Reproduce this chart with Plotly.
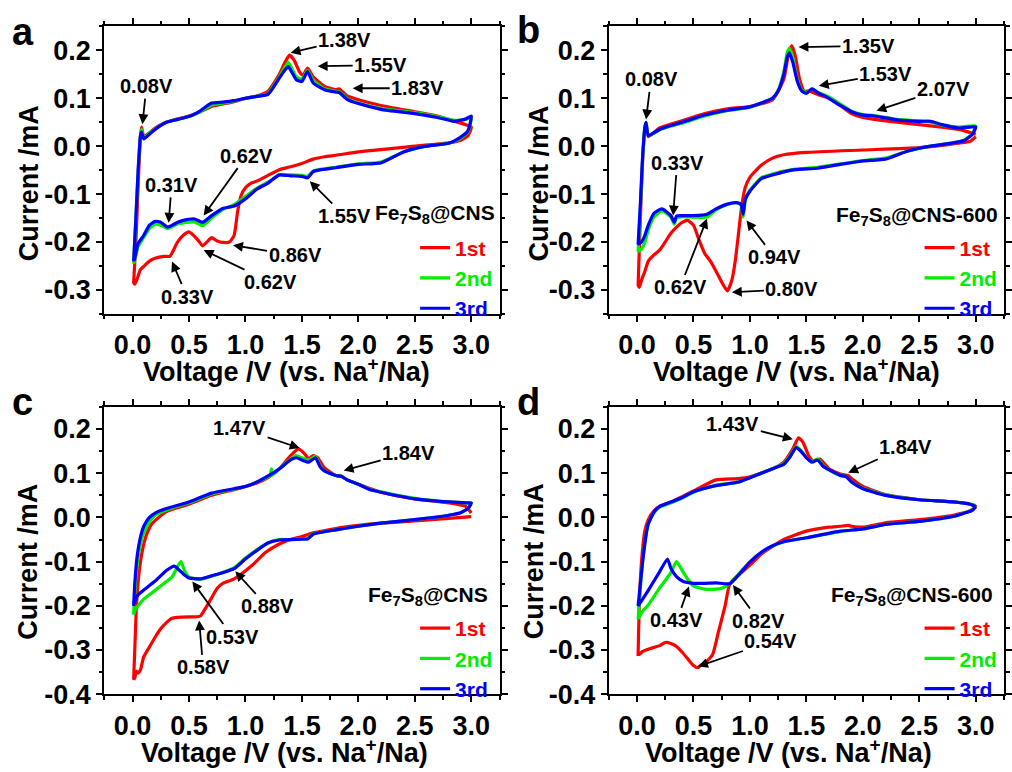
import plotly.graph_objects as go

W, H = 1012, 772
FONT = "Arial, Liberation Sans, sans-serif"
RED, GREEN, BLUE = "#ff0000", "#00ee00", "#0000ff"
CYCLE_NAMES = ["1st", "2nd", "3rd"]
CYCLE_COLORS = [RED, GREEN, BLUE]

# ---------------- Panel a : Fe7S8@CNS ----------------
A1_CATH_V = [3.0, 2.97, 2.9, 2.8, 2.5, 2.2, 2.0, 1.8, 1.7, 1.6, 1.5, 1.4, 1.3, 1.2, 1.1, 1.05, 1.0, 0.96, 0.93, 0.9,
             0.86, 0.8, 0.75, 0.7, 0.66, 0.62, 0.58, 0.5, 0.45, 0.4, 0.35, 0.33, 0.28, 0.2, 0.15, 0.1, 0.07, 0.04, 0.02, 0.01]
A1_CATH_I = [0.04, 0.022, 0.012, 0.007, 0.0, -0.007, -0.012, -0.019, -0.022, -0.027, -0.036, -0.043, -0.049, -0.061,
             -0.073, -0.077, -0.087, -0.104, -0.138, -0.186, -0.2, -0.201, -0.198, -0.191, -0.2, -0.208, -0.196, -0.179,
             -0.186, -0.2, -0.223, -0.23, -0.23, -0.234, -0.24, -0.251, -0.258, -0.278, -0.288, -0.285]
A1_ANOD_V = [0.01, 0.03, 0.05, 0.07, 0.08, 0.1, 0.15, 0.2, 0.3, 0.4, 0.5, 0.6, 0.7, 0.8, 0.9, 1.0, 1.1, 1.2, 1.3, 1.35,
             1.39, 1.43, 1.48, 1.51, 1.55, 1.6, 1.7, 1.8, 1.83, 1.9, 2.0, 2.2, 2.5, 2.7, 2.85, 2.95, 3.0]
A1_ANOD_I = [-0.285, -0.2, -0.08, 0.02, 0.04, 0.02, 0.028, 0.038, 0.05, 0.057, 0.063, 0.072, 0.083, 0.088, 0.093, 0.1,
             0.105, 0.115, 0.15, 0.175, 0.19, 0.18, 0.155, 0.148, 0.163, 0.145, 0.125, 0.118, 0.12, 0.105, 0.097, 0.085,
             0.072, 0.063, 0.052, 0.045, 0.04]
A_CATH_V = [3.0, 2.97, 2.9, 2.8, 2.6, 2.4, 2.2, 2.0, 1.8, 1.65, 1.6, 1.55, 1.5, 1.4, 1.3, 1.2, 1.1, 1.0, 0.9, 0.8, 0.7,
            0.62, 0.55, 0.45, 0.4, 0.31, 0.25, 0.2, 0.15, 0.1, 0.05, 0.02, 0.01]
A2_CATH_I = [0.06, 0.03, 0.016, 0.006, 0.0, -0.012, -0.033, -0.037, -0.044, -0.049, -0.052, -0.063, -0.061, -0.06, -0.06,
             -0.075, -0.088, -0.105, -0.122, -0.132, -0.15, -0.166, -0.158, -0.16, -0.162, -0.172, -0.165, -0.163,
             -0.172, -0.19, -0.21, -0.238, -0.245]
A3_CATH_I = [0.063, 0.032, 0.018, 0.006, 0.0, -0.012, -0.035, -0.038, -0.045, -0.05, -0.053, -0.066, -0.063, -0.062,
             -0.06, -0.077, -0.09, -0.11, -0.125, -0.13, -0.145, -0.159, -0.152, -0.155, -0.159, -0.169, -0.159, -0.157,
             -0.165, -0.186, -0.203, -0.234, -0.24]
A_ANOD_V = [0.01, 0.03, 0.05, 0.07, 0.08, 0.1, 0.15, 0.2, 0.3, 0.4, 0.5, 0.6, 0.7, 0.8, 0.9, 1.0, 1.1, 1.2, 1.3, 1.35,
            1.38, 1.45, 1.5, 1.55, 1.6, 1.7, 1.8, 1.83, 1.9, 2.0, 2.2, 2.5, 2.7, 2.85, 2.95, 3.0]
A2_ANOD_I = [-0.245, -0.15, -0.05, 0.02, 0.035, 0.017, 0.027, 0.036, 0.05, 0.056, 0.062, 0.072, 0.086, 0.09, 0.094, 0.1,
             0.104, 0.11, 0.145, 0.165, 0.175, 0.145, 0.14, 0.158, 0.138, 0.12, 0.115, 0.114, 0.1, 0.09, 0.079, 0.07,
             0.062, 0.054, 0.056, 0.06]
A3_ANOD_I = [-0.24, -0.15, -0.05, 0.02, 0.03, 0.015, 0.025, 0.035, 0.05, 0.056, 0.062, 0.074, 0.09, 0.092, 0.095, 0.1,
             0.104, 0.108, 0.142, 0.159, 0.166, 0.139, 0.135, 0.156, 0.132, 0.118, 0.113, 0.112, 0.098, 0.089, 0.077,
             0.068, 0.06, 0.052, 0.057, 0.063]

# ---------------- Panel b : Fe7S8@CNS-600 ----------------
B1_CATH_V = [3.0, 2.95, 2.8, 2.5, 2.0, 1.5, 1.3, 1.2, 1.1, 1.0, 0.96, 0.93, 0.9, 0.87, 0.84, 0.8, 0.76, 0.7, 0.65, 0.6,
             0.55, 0.5, 0.45, 0.4, 0.35, 0.3, 0.25, 0.2, 0.15, 0.1, 0.07, 0.04, 0.02, 0.01]
B1_CATH_I = [0.02, 0.01, 0.005, -0.003, -0.008, -0.013, -0.018, -0.025, -0.04, -0.065, -0.085, -0.12, -0.18, -0.24,
             -0.28, -0.302, -0.288, -0.261, -0.24, -0.224, -0.196, -0.165, -0.155, -0.159, -0.169, -0.182, -0.2,
             -0.217, -0.227, -0.24, -0.261, -0.28, -0.295, -0.29]
B1_ANOD_V = [0.01, 0.03, 0.05, 0.07, 0.08, 0.1, 0.2, 0.4, 0.6, 0.8, 1.0, 1.2, 1.3, 1.34, 1.37, 1.4, 1.44, 1.48, 1.53,
             1.6, 1.7, 1.8, 1.9, 2.0, 2.1, 2.3, 2.5, 2.7, 2.85, 3.0]
B1_ANOD_I = [-0.29, -0.15, -0.03, 0.035, 0.045, 0.02, 0.038, 0.053, 0.068, 0.078, 0.083, 0.097, 0.14, 0.19, 0.21, 0.19,
             0.14, 0.115, 0.115, 0.108, 0.1, 0.085, 0.068, 0.06, 0.056, 0.05, 0.045, 0.04, 0.035, 0.025]
B_CATH_V = [3.0, 2.97, 2.9, 2.8, 2.6, 2.4, 2.2, 2.0, 1.8, 1.6, 1.4, 1.2, 1.1, 1.0, 0.96, 0.94, 0.92, 0.88, 0.8, 0.7,
            0.62, 0.5, 0.4, 0.35, 0.33, 0.3, 0.22, 0.15, 0.1, 0.07, 0.04, 0.01]
B2_CATH_I = [0.042, 0.026, 0.013, 0.007, 0.0, -0.01, -0.025, -0.03, -0.037, -0.044, -0.048, -0.058, -0.066, -0.092,
             -0.112, -0.148, -0.123, -0.118, -0.122, -0.133, -0.148, -0.148, -0.147, -0.15, -0.163, -0.148, -0.135,
             -0.148, -0.175, -0.2, -0.215, -0.22]
B3_CATH_I = [0.04, 0.025, 0.012, 0.007, 0.0, -0.01, -0.027, -0.031, -0.038, -0.046, -0.049, -0.06, -0.068, -0.094,
             -0.11, -0.142, -0.121, -0.118, -0.121, -0.131, -0.142, -0.145, -0.145, -0.146, -0.159, -0.145, -0.131,
             -0.14, -0.165, -0.186, -0.2, -0.205]
B_ANOD_V = [0.01, 0.03, 0.05, 0.07, 0.08, 0.1, 0.15, 0.2, 0.3, 0.4, 0.6, 0.8, 1.0, 1.1, 1.2, 1.25, 1.3, 1.33, 1.35, 1.38,
            1.42, 1.46, 1.5, 1.55, 1.6, 1.7, 1.8, 1.9, 2.0, 2.1, 2.3, 2.5, 2.6, 2.7, 2.85, 2.95, 3.0]
B2_ANOD_I = [-0.22, -0.13, -0.025, 0.04, 0.05, 0.022, 0.027, 0.034, 0.042, 0.048, 0.063, 0.074, 0.081, 0.09, 0.1, 0.117,
             0.155, 0.195, 0.205, 0.185, 0.14, 0.117, 0.112, 0.12, 0.113, 0.103, 0.088, 0.073, 0.066, 0.064, 0.056,
             0.053, 0.05, 0.044, 0.04, 0.042, 0.042]
B3_ANOD_I = [-0.205, -0.12, -0.02, 0.04, 0.05, 0.022, 0.028, 0.035, 0.043, 0.05, 0.065, 0.075, 0.082, 0.09, 0.1, 0.115,
             0.15, 0.185, 0.195, 0.175, 0.135, 0.115, 0.11, 0.12, 0.112, 0.1, 0.085, 0.072, 0.065, 0.063, 0.055, 0.052,
             0.052, 0.045, 0.038, 0.04, 0.04]

# ---------------- Panel c : Fe7S8@CNS ----------------
C1_CATH_V = [3.0, 2.8, 2.5, 2.2, 2.0, 1.8, 1.6, 1.5, 1.4, 1.3, 1.18, 1.06, 0.9, 0.8, 0.75, 0.7, 0.65, 0.6, 0.55, 0.5,
             0.4, 0.35, 0.3, 0.25, 0.2, 0.15, 0.1, 0.07, 0.05, 0.035, 0.02, 0.01]
C1_CATH_I = [0.002, -0.002, -0.008, -0.013, -0.018, -0.025, -0.035, -0.043, -0.05, -0.06, -0.079, -0.108, -0.139,
             -0.149, -0.16, -0.182, -0.204, -0.223, -0.225, -0.225, -0.226, -0.228, -0.238, -0.252, -0.271, -0.293,
             -0.315, -0.345, -0.352, -0.348, -0.363, -0.367]
C1_ANOD_V = [0.01, 0.02, 0.035, 0.06, 0.1, 0.13, 0.17, 0.21, 0.3, 0.5, 0.7, 0.9, 1.0, 1.1, 1.2, 1.3, 1.4, 1.47, 1.52,
             1.56, 1.6, 1.64, 1.7, 1.8, 1.85, 1.9, 2.0, 2.2, 2.5, 2.8, 2.95, 3.0]
C1_ANOD_I = [-0.367, -0.3, -0.2, -0.12, -0.06, -0.035, -0.015, -0.005, 0.013, 0.03, 0.05, 0.063, 0.07, 0.078, 0.09,
             0.11, 0.14, 0.155, 0.145, 0.133, 0.14, 0.135, 0.112, 0.095, 0.093, 0.085, 0.075, 0.057, 0.042, 0.033,
             0.025, 0.01]
C2_CATH_V = [3.0, 2.97, 2.9, 2.8, 2.5, 2.2, 2.0, 1.8, 1.6, 1.55, 1.5, 1.4, 1.3, 1.2, 1.1, 1.0, 0.9, 0.8, 0.7, 0.6, 0.5,
             0.46, 0.43, 0.4, 0.35, 0.3, 0.2, 0.1, 0.05, 0.02, 0.01]
C2_CATH_I = [0.033, 0.02, 0.01, 0.005, -0.005, -0.013, -0.02, -0.028, -0.037, -0.047, -0.048, -0.05, -0.05, -0.057,
             -0.073, -0.092, -0.114, -0.124, -0.133, -0.14, -0.135, -0.12, -0.1, -0.11, -0.135, -0.145, -0.165, -0.185,
             -0.2, -0.212, -0.22]
C2_ANOD_V = [0.01, 0.02, 0.04, 0.07, 0.1, 0.15, 0.2, 0.3, 0.5, 0.7, 0.9, 1.0, 1.1, 1.2, 1.22, 1.23, 1.24, 1.3, 1.4,
             1.45, 1.5, 1.56, 1.62, 1.66, 1.7, 1.8, 1.85, 1.9, 2.0, 2.1, 2.2, 2.5, 2.8, 2.95, 3.0]
C2_ANOD_I = [-0.22, -0.17, -0.11, -0.06, -0.035, -0.01, 0.005, 0.017, 0.033, 0.053, 0.064, 0.07, 0.08, 0.092, 0.095,
             0.11, 0.096, 0.11, 0.132, 0.14, 0.135, 0.13, 0.138, 0.118, 0.105, 0.095, 0.093, 0.085, 0.075, 0.064, 0.058,
             0.043, 0.035, 0.033, 0.033]
C3_CATH_V = [3.0, 2.97, 2.9, 2.8, 2.5, 2.2, 2.0, 1.8, 1.6, 1.55, 1.5, 1.4, 1.3, 1.2, 1.1, 1.0, 0.9, 0.8, 0.7, 0.6, 0.5,
             0.45, 0.37, 0.3, 0.2, 0.1, 0.05, 0.02, 0.01]
C3_CATH_I = [0.033, 0.02, 0.01, 0.005, -0.005, -0.013, -0.02, -0.028, -0.038, -0.049, -0.049, -0.05, -0.051, -0.058,
             -0.075, -0.094, -0.116, -0.125, -0.132, -0.139, -0.137, -0.128, -0.11, -0.12, -0.144, -0.164, -0.175,
             -0.19, -0.2]
C3_ANOD_V = [0.01, 0.02, 0.04, 0.07, 0.1, 0.15, 0.2, 0.3, 0.5, 0.7, 0.9, 1.0, 1.1, 1.2, 1.3, 1.4, 1.45, 1.5, 1.56, 1.62,
             1.66, 1.7, 1.8, 1.85, 1.9, 2.0, 2.1, 2.2, 2.5, 2.8, 2.95, 3.0]
C3_ANOD_I = [-0.2, -0.15, -0.09, -0.045, -0.02, 0.0, 0.01, 0.02, 0.035, 0.055, 0.065, 0.07, 0.08, 0.094, 0.11, 0.13,
             0.135, 0.13, 0.125, 0.135, 0.115, 0.105, 0.095, 0.093, 0.085, 0.075, 0.063, 0.057, 0.042, 0.035, 0.033,
             0.033]

# ---------------- Panel d : Fe7S8@CNS-600 ----------------
D1_CATH_V = [3.0, 2.95, 2.8, 2.5, 2.2, 2.0, 1.9, 1.87, 1.8, 1.7, 1.5, 1.3, 1.1, 1.0, 0.9, 0.82, 0.78, 0.72, 0.67, 0.6,
             0.56, 0.54, 0.5, 0.45, 0.4, 0.35, 0.3, 0.25, 0.2, 0.1, 0.05, 0.02, 0.01]
D1_CATH_I = [0.025, 0.015, 0.005, -0.005, -0.012, -0.022, -0.02, -0.018, -0.02, -0.022, -0.031, -0.05, -0.083, -0.108,
             -0.13, -0.152, -0.2, -0.26, -0.31, -0.33, -0.335, -0.34, -0.335, -0.32, -0.305, -0.292, -0.285, -0.283,
             -0.29, -0.298, -0.303, -0.31, -0.31]
D1_ANOD_V = [0.01, 0.02, 0.04, 0.07, 0.1, 0.15, 0.2, 0.3, 0.5, 0.7, 0.9, 1.0, 1.2, 1.3, 1.38, 1.43, 1.47, 1.52, 1.56,
             1.62, 1.7, 1.8, 1.87, 1.9, 2.0, 2.2, 2.5, 2.8, 2.95, 3.0]
D1_ANOD_I = [-0.31, -0.2, -0.1, -0.03, -0.005, 0.015, 0.025, 0.035, 0.06, 0.085, 0.088, 0.092, 0.11, 0.125, 0.155,
             0.18, 0.17, 0.14, 0.128, 0.132, 0.11, 0.098, 0.095, 0.088, 0.07, 0.052, 0.04, 0.035, 0.03, 0.025]
D2_CATH_V = [3.0, 2.97, 2.9, 2.8, 2.5, 2.2, 2.0, 1.8, 1.5, 1.3, 1.2, 1.1, 1.0, 0.9, 0.82, 0.75, 0.7, 0.6, 0.5, 0.45,
             0.4, 0.35, 0.3, 0.2, 0.1, 0.05, 0.01]
D2_CATH_I = [0.026, 0.017, 0.01, 0.002, -0.009, -0.016, -0.026, -0.032, -0.046, -0.055, -0.065, -0.08, -0.1, -0.128,
             -0.15, -0.16, -0.162, -0.162, -0.155, -0.14, -0.12, -0.1, -0.125, -0.16, -0.198, -0.212, -0.23]
D3_CATH_V = [3.0, 2.97, 2.9, 2.8, 2.5, 2.2, 2.0, 1.8, 1.5, 1.3, 1.2, 1.1, 1.0, 0.9, 0.82, 0.7, 0.6, 0.5, 0.41, 0.35,
             0.3, 0.27, 0.2, 0.1, 0.05, 0.01]
D3_CATH_I = [0.024, 0.016, 0.01, 0.002, -0.009, -0.016, -0.026, -0.031, -0.046, -0.055, -0.064, -0.079, -0.101, -0.13,
             -0.15, -0.148, -0.149, -0.149, -0.145, -0.134, -0.115, -0.094, -0.123, -0.165, -0.185, -0.2]
D_ANOD_V = [0.01, 0.03, 0.05, 0.08, 0.1, 0.15, 0.2, 0.3, 0.4, 0.5, 0.7, 0.9, 1.0, 1.2, 1.3, 1.35, 1.41, 1.45, 1.5, 1.55,
            1.6, 1.65, 1.7, 1.8, 1.85, 1.9, 2.0, 2.2, 2.5, 2.8, 2.95, 3.0]
D2_ANOD_I = [-0.23, -0.16, -0.1, -0.04, -0.015, 0.01, 0.023, 0.033, 0.044, 0.057, 0.073, 0.08, 0.09, 0.11, 0.122, 0.138,
             0.16, 0.152, 0.136, 0.127, 0.132, 0.117, 0.107, 0.095, 0.093, 0.08, 0.066, 0.051, 0.04, 0.035, 0.03, 0.027]
D3_ANOD_I = [-0.2, -0.15, -0.1, -0.04, -0.015, 0.012, 0.025, 0.035, 0.045, 0.058, 0.072, 0.08, 0.09, 0.11, 0.12, 0.135,
             0.158, 0.15, 0.135, 0.125, 0.13, 0.115, 0.108, 0.095, 0.093, 0.08, 0.065, 0.05, 0.04, 0.035, 0.03, 0.025]

# Tick labels
X_TICKS = [0.0, 0.5, 1.0, 1.5, 2.0, 2.5, 3.0]
X_TICKTEXT = ["0.0", "0.5", "1.0", "1.5", "2.0", "2.5", "3.0"]
Y_TICKS_TOP = [-0.3, -0.2, -0.1, 0.0, 0.1, 0.2]
Y_TICKTEXT_TOP = ["-0.3", "-0.2", "-0.1", "0.0", "0.1", "0.2"]
Y_TICKS_BOT = [-0.4, -0.3, -0.2, -0.1, 0.0, 0.1, 0.2]
Y_TICKTEXT_BOT = ["-0.4", "-0.3", "-0.2", "-0.1", "0.0", "0.1", "0.2"]

SAMPLE_LABELS = ["Fe<sub>7</sub>S<sub>8</sub>@CNS", "Fe<sub>7</sub>S<sub>8</sub>@CNS-600",
                 "Fe<sub>7</sub>S<sub>8</sub>@CNS", "Fe<sub>7</sub>S<sub>8</sub>@CNS-600"]
PANEL_LETTERS = ["a", "b", "c", "d"]

# peak labels: (text, V, I, dx_px, dy_px)
PEAKS = [
    [("1.38V", 1.40, 0.195, 54, -13), ("1.55V", 1.64, 0.167, 63, -1), ("1.83V", 1.95, 0.121, 65, 0),
     ("0.08V", 0.088, 0.046, 4, -38), ("0.62V", 0.63, -0.145, 43, -60), ("0.31V", 0.32, -0.16, 3, -38),
     ("1.55V", 1.57, -0.073, 35, 35), ("0.86V", 0.89, -0.207, 62, 10), ("0.62V", 0.63, -0.217, 67, 32),
     ("0.33V", 0.35, -0.241, 15, 35)],
    [("1.35V", 1.43, 0.207, 70, -1), ("1.53V", 1.61, 0.126, 67, -12), ("2.07V", 2.12, 0.074, 67, -22),
     ("0.08V", 0.08, 0.056, 5, -40), ("0.33V", 0.32, -0.145, 4, -53), ("0.62V", 0.62, -0.151, -27, 69),
     ("0.94V", 0.97, -0.155, 28, 37), ("0.80V", 0.84, -0.305, 60, -3)],
    [("1.47V", 1.48, 0.157, -60, -20), ("1.84V", 1.87, 0.106, 65, -18), ("0.88V", 0.91, -0.122, 32, 35),
     ("0.53V", 0.53, -0.145, 40, 55), ("0.58V", 0.59, -0.233, 4, 47)],
    [("1.43V", 1.38, 0.177, -60, -15), ("1.84V", 1.87, 0.101, 57, -26), ("0.43V", 0.46, -0.156, -12, 34),
     ("0.82V", 0.85, -0.153, 26, 36), ("0.54V", 0.54, -0.337, 73, -25)],
]

CYCLES = [
    [(A1_CATH_V, A1_CATH_I, A1_ANOD_V, A1_ANOD_I), (A_CATH_V, A2_CATH_I, A_ANOD_V, A2_ANOD_I),
     (A_CATH_V, A3_CATH_I, A_ANOD_V, A3_ANOD_I)],
    [(B1_CATH_V, B1_CATH_I, B1_ANOD_V, B1_ANOD_I), (B_CATH_V, B2_CATH_I, B_ANOD_V, B2_ANOD_I),
     (B_CATH_V, B3_CATH_I, B_ANOD_V, B3_ANOD_I)],
    [(C1_CATH_V, C1_CATH_I, C1_ANOD_V, C1_ANOD_I), (C2_CATH_V, C2_CATH_I, C2_ANOD_V, C2_ANOD_I),
     (C3_CATH_V, C3_CATH_I, C3_ANOD_V, C3_ANOD_I)],
    [(D1_CATH_V, D1_CATH_I, D1_ANOD_V, D1_ANOD_I), (D2_CATH_V, D2_CATH_I, D_ANOD_V, D2_ANOD_I),
     (D3_CATH_V, D3_CATH_I, D_ANOD_V, D3_ANOD_I)],
]

# ---------------- layout geometry (pixels) ----------------
COL_X = [(105, 503), (613, 1011)]
ROW_Y = [(27, 320), (415, 708)]
PANEL_POS = [(0, 0), (1, 0), (0, 1), (1, 1)]  # (col,row)


def px(x):
    return x / W


def py(y):
    return 1 - y / H


fig = go.Figure()
ann = []
layout = {}

for p in range(4):
    col, row = PANEL_POS[p]
    sfx = "" if p == 0 else str(p + 1)
    xa, ya = "x" + sfx, "y" + sfx
    leg = "legend" + sfx
    for c in range(3):
        cv, ci, av, ai = CYCLES[p][c]
        fig.add_trace(go.Scatter(
            x=list(cv) + list(av), y=list(ci) + list(ai), mode="lines",
            line=dict(color=CYCLE_COLORS[c], width=3.2, shape="spline", smoothing=0.5),
            name="<span style='color:%s'>%s</span>" % (CYCLE_COLORS[c], CYCLE_NAMES[c]),
            xaxis=xa, yaxis=ya, legend=leg, showlegend=True))

    top = row == 0
    axis_common = dict(showline=True, linewidth=2, linecolor="black", mirror="ticks", ticks="outside",
                       ticklen=6, tickwidth=2, tickcolor="black", showgrid=False, zeroline=False,
                       tickfont=dict(family=FONT, size=27, color="black", weight="bold"))
    layout["xaxis" + sfx] = dict(
        domain=[px(COL_X[col][0]), px(COL_X[col][1])], anchor=ya, range=[-0.25, 3.25],
        tickmode="array", tickvals=X_TICKS, ticktext=X_TICKTEXT,
        minor=dict(ticks="outside", ticklen=3.5, tickwidth=1.5, tickcolor="black", dtick=0.25, tick0=0.25,
                   showgrid=False),
        **axis_common)
    layout["yaxis" + sfx] = dict(
        domain=[py(ROW_Y[row][1]), py(ROW_Y[row][0])], anchor=xa,
        range=[-0.35, 0.25] if top else [-0.4, 0.25],
        tickmode="array", tickvals=Y_TICKS_TOP if top else Y_TICKS_BOT,
        ticktext=Y_TICKTEXT_TOP if top else Y_TICKTEXT_BOT,
        minor=dict(ticks="outside", ticklen=3.5, tickwidth=1.5, tickcolor="black", dtick=0.05, tick0=0.05,
                   showgrid=False),
        **axis_common)

    # legend
    lx = COL_X[col][1] - 85
    ly = ROW_Y[row][0] + 205
    layout[leg] = dict(x=px(lx), y=py(ly), xanchor="left", yanchor="top", bgcolor="rgba(0,0,0,0)",
                       borderwidth=0, itemwidth=30, tracegroupgap=0,
                       font=dict(family=FONT, size=21, color="black", weight="bold"))

    # axis titles
    yt_x = [30, 543, 28, 538][p]
    yt_y = [187, 187, 573, 572][p]
    ann.append(dict(text="Current /mA", x=px(yt_x), y=py(yt_y), xref="paper", yref="paper", showarrow=False,
                    textangle=-90, xanchor="center", yanchor="middle",
                    font=dict(family=FONT, size=27, color="black", weight="bold")))
    xt_x = [288, 802, 286, 794][p]
    xt_y = [377, 377, 766, 766][p]
    ann.append(dict(text="Voltage /V (vs. Na<sup>+</sup>/Na)", x=px(xt_x), y=py(xt_y), xref="paper", yref="paper",
                    showarrow=False, xanchor="center", yanchor="middle",
                    font=dict(family=FONT, size=27, color="black", weight="bold")))
    # panel letter
    lt = [(23, 33), (532, 31), (23, 410), (532, 410)][p]
    ann.append(dict(text=PANEL_LETTERS[p], x=px(lt[0]), y=py(lt[1]), xref="paper", yref="paper", showarrow=False,
                    xanchor="center", yanchor="middle",
                    font=dict(family=FONT, size=38, color="black", weight="bold")))
    # sample label
    sl = [(500, 218), (1007, 220), (493, 608), (1002, 608)][p]
    ann.append(dict(text=SAMPLE_LABELS[p], x=px(sl[0]), y=py(sl[1]), xref="paper", yref="paper", showarrow=False,
                    xanchor="right", yanchor="middle",
                    font=dict(family=FONT, size=21, color="black", weight="bold")))
    # peak labels
    for (t, v, i, dx, dy) in PEAKS[p]:
        ann.append(dict(text=t, x=v, y=i, xref=xa, yref=ya, ax=dx, ay=dy, showarrow=True, arrowhead=2,
                        arrowsize=1.1, arrowwidth=1.8, arrowcolor="black", standoff=0,
                        font=dict(family=FONT, size=20, color="black", weight="bold")))

fig.update_layout(width=W, height=H, margin=dict(l=0, r=0, t=0, b=0), paper_bgcolor="white",
                  plot_bgcolor="white", annotations=ann, **layout)

fig.write_html("out.html", config={"displayModeBar": False},
               post_script="document.body.style.margin='0';")
